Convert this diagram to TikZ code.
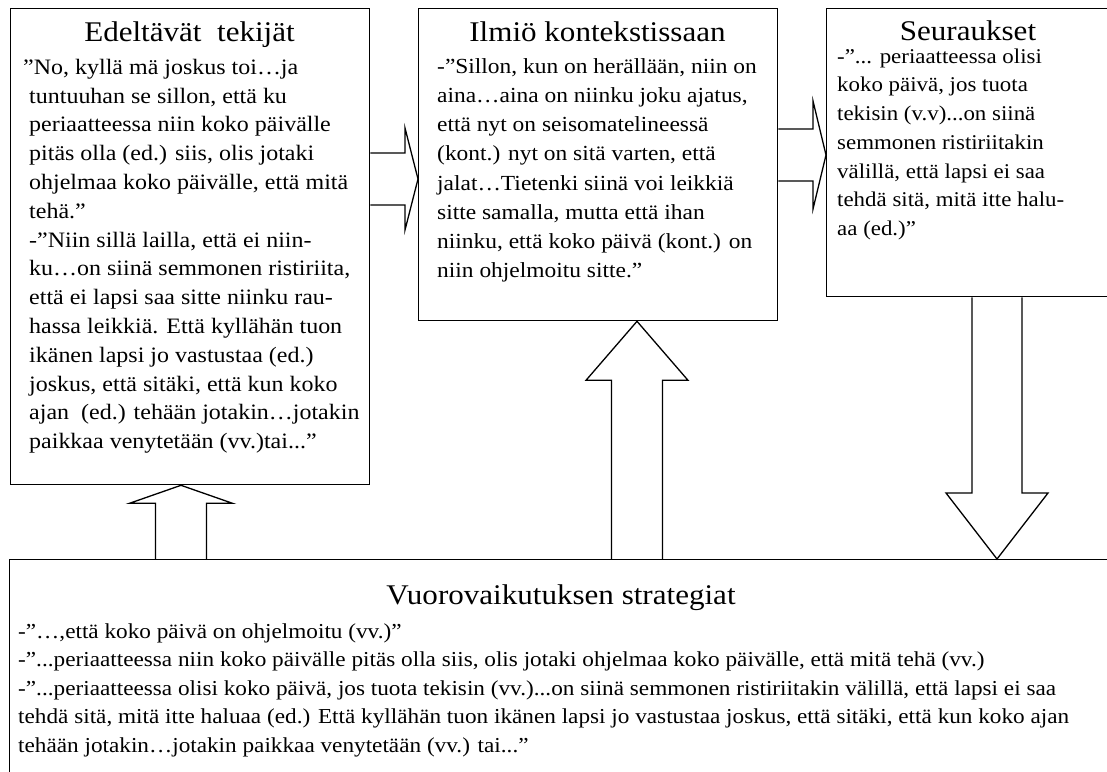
\documentclass[tikz,border=0pt]{standalone}
\usepackage{fontspec}
\setmainfont{Liberation Serif}[FakeStretch=1.09]
\usetikzlibrary{calc}
\newcommand\firstlinestrut{\rule{0pt}{20pt}}
\begin{document}
\begin{tikzpicture}[x=1pt,y=-1pt,
  frame/.style={draw,line width=1.3pt,rectangle,inner sep=0pt,anchor=north west},
  heading/.style={font=\fontsize{28.5}{32}\selectfont,anchor=base,inner sep=0pt},
  citation/.style 2 args={font=\fontsize{#1}{#2}\selectfont,align=left,anchor=north west,inner sep=0pt},
  blockline/.style={draw,line width=1.3pt,line join=miter},
  % horizontal block arrow: shaft half width, head half width, head length
  hblock/.style n args={3}{to path={let \p1=(\tikztostart), \p2=(\tikztotarget) in
    (\x1,\y1+#1) -- (\x2-#3,\y1+#1) -- (\x2-#3,\y1+#2) -- (\x2,\y2)
    -- (\x2-#3,\y1-#2) -- (\x2-#3,\y1-#1) -- (\x1,\y1-#1)}},
  % vertical block arrow, up or down
  vblock/.style n args={3}{to path={let \p1=(\tikztostart), \p2=(\tikztotarget),
    \n1={sign(\y2-\y1)*#3} in
    (\x1-#1,\y1) -- (\x1-#1,{\y2-\n1}) -- (\x1-#2,{\y2-\n1}) -- (\x2,\y2)
    -- (\x1+#2,{\y2-\n1}) -- (\x1+#1,{\y2-\n1}) -- (\x1+#1,\y1)}}
]
\useasboundingbox (0,0) rectangle (1107,771);
\fill[white] (0,0) rectangle (1107,771);
\clip (0,0) rectangle (1107,771);

% the four boxes
\node[frame,minimum width=359pt,minimum height=476pt] (ante)  at (10,8) {};
\node[frame,minimum width=359pt,minimum height=312pt] (phen)  at (418,8) {};
\node[frame,minimum width=284pt,minimum height=288pt] (cons)  at (826,8) {};
\node[frame,minimum width=1104pt,minimum height=240pt] (strat) at (9,559) {};

% headings
\node[heading] (ante-h)  at (189.5,41) {Edeltävät\ \ tekijät};
\node[heading] (phen-h)  at (597.5,41) {Ilmiö kontekstissaan};
\node[heading] (cons-h)  at (968,40) {Seuraukset};
\node[heading] (strat-h) at (561,604) {Vuorovaikutuksen strategiat};

% quotations
\node[citation={22}{28.8}] (ante-q) at (29,54) {\firstlinestrut\hspace*{-6pt}”No, kyllä mä joskus toi…ja\\
tuntuuhan se sillon, että ku\\
periaatteessa niin koko päivälle\\
pitäs olla (ed.) siis, olis jotaki\\
ohjelmaa koko päivälle, että mitä\\
tehä.”\\
-”Niin sillä lailla, että ei niin-\\
ku…on siinä semmonen ristiriita,\\
että ei lapsi saa sitte niinku rau-\\
hassa leikkiä. Että kyllähän tuon\\
ikänen lapsi jo vastustaa (ed.)\\
joskus, että sitäki, että kun koko\\
ajan\ \ (ed.) tehään jotakin…jotakin\\
paikkaa venytetään (vv.)tai...”};

\node[citation={21.5}{29.2}] (phen-q) at (437,53) {\firstlinestrut-”Sillon, kun on herällään, niin on\\
aina…aina on niinku joku ajatus,\\
että nyt on seisomatelineessä\\
(kont.) nyt on sitä varten, että\\
jalat…Tietenki siinä voi leikkiä\\
sitte samalla, mutta että ihan\\
niinku, että koko päivä (kont.) on\\
niin ohjelmoitu sitte.”};

\node[citation={21}{28.7}] (cons-q) at (837,43) {\firstlinestrut-”... periaatteessa olisi\\
koko päivä, jos tuota\\
tekisin (v.v)...on siinä\\
semmonen ristiriitakin\\
välillä, että lapsi ei saa\\
tehdä sitä, mitä itte halu-\\
aa (ed.)”};

\node[citation={21.3}{28.5}] (strat-q) at (18,618) {\firstlinestrut-”…,että koko päivä on ohjelmoitu (vv.)”\\
-”...periaatteessa niin koko päivälle pitäs olla siis, olis jotaki ohjelmaa koko päivälle, että mitä tehä (vv.)\\
-”...periaatteessa olisi koko päivä, jos tuota tekisin (vv.)...on siinä semmonen ristiriitakin välillä, että lapsi ei saa\\
tehdä sitä, mitä itte haluaa (ed.) Että kyllähän tuon ikänen lapsi jo vastustaa joskus, että sitäki, että kun koko ajan\\
tehään jotakin…jotakin paikkaa venytetään (vv.) tai...”};

% block arrows between the boxes
\coordinate (a1) at (0,179);
\coordinate (a2) at (0,155);
\coordinate (a3) at (181,0);
\coordinate (a4) at (637,0);
\coordinate (a5) at (997,0);
\draw[blockline] (ante.east |- a1) to[hblock={26pt}{51pt}{13pt}] (phen.west |- a1);
\draw[blockline] (phen.east |- a2) to[hblock={26pt}{54pt}{13pt}] (cons.west |- a2);
\draw[blockline] (strat.north -| a3) to[vblock={25.5pt}{51.5pt}{18pt}] (ante.south -| a3);
\draw[blockline] (strat.north -| a4) to[vblock={25.5pt}{51pt}{59pt}] (phen.south -| a4);
\draw[blockline] (cons.south -| a5) to[vblock={25pt}{51pt}{66pt}] (strat.north -| a5);
\end{tikzpicture}
\end{document}
